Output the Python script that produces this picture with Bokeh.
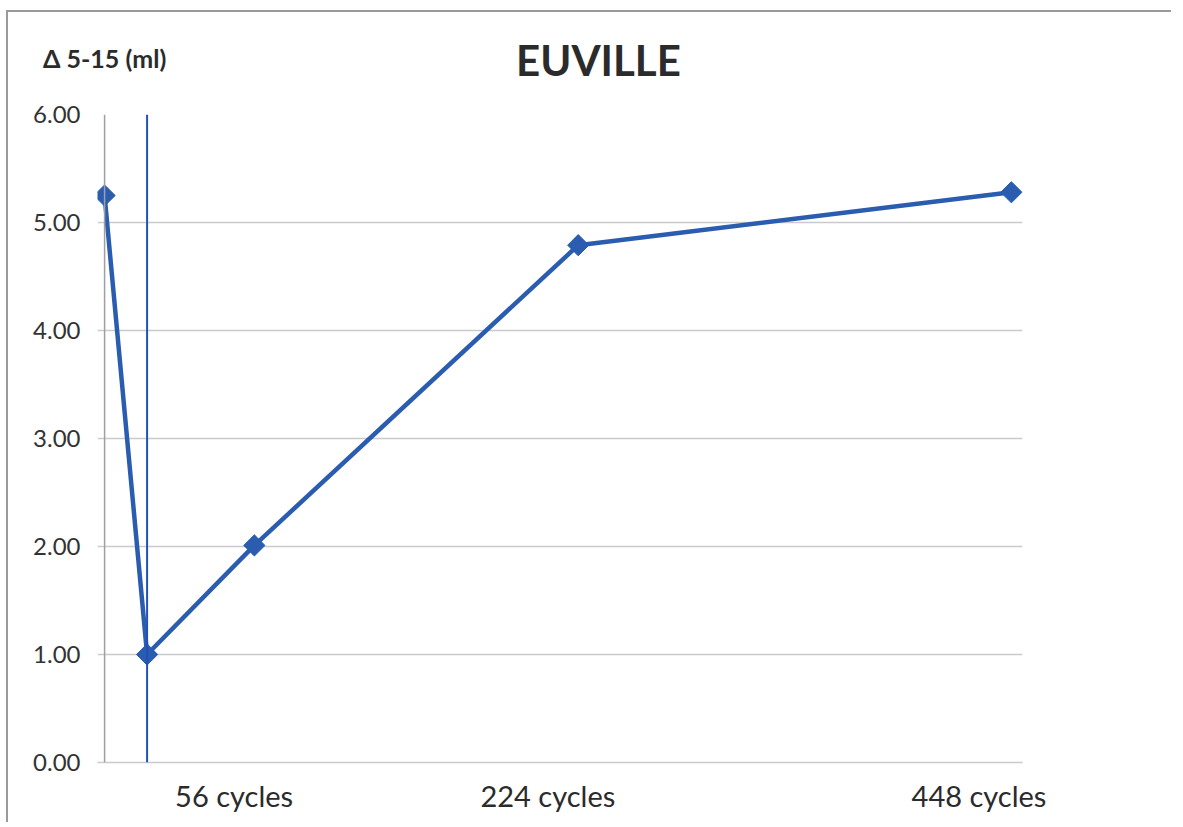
import numpy as np
from bokeh.plotting import figure
from bokeh.models import FixedTicker, Span, Range1d, CustomJSTickFormatter, LinearAxis
from bokeh.embed import file_html
from bokeh.resources import INLINE

# ---- data ----
title_text = "EUVILLE"
y_label_text = "Δ 5-15 (ml)"
x_values = [0, 21, 74, 234, 448]          # position along the cycle axis
y_values = [5.25, 1.00, 2.01, 4.79, 5.28]  # Δ 5-15 (ml)
tick_labels = ["56 cycles", "224 cycles", "448 cycles"]
tick_label_pos = [64, 219, 432]
marker_line_x = 21
y_ticks = [0, 1, 2, 3, 4, 5, 6]
title_pos = 244
y_label_pos = 0

blue = "#2a5cb0"
grid = "#c9c9cf"
font = "Lato"

W, H = 1165, 812
p = figure(width=W, height=H, output_backend="svg", toolbar_location=None,
           x_range=Range1d(-3.5, 453.5), y_range=Range1d(0, 6))
p.margin = (10, 0, 0, 6)
p.min_border_left = 89
p.min_border_right = 151
p.min_border_top = 102
p.min_border_bottom = 62
p.outline_line_color = None
p.background_fill_color = "white"
p.border_fill_color = "white"
p.styles = {"border-top": "2px solid #9a9a9a", "border-left": "2px solid #9a9a9a"}


def text_axis(pos, text, size, standoff):
    ax = LinearAxis(ticker=FixedTicker(ticks=[pos]), major_label_overrides={pos: text})
    ax.major_label_text_font = font
    ax.major_label_text_font_size = size
    ax.major_label_text_font_style = "bold"
    ax.major_label_text_color = "#2b2b2b"
    ax.major_label_standoff = standoff
    ax.axis_line_color = None
    ax.major_tick_line_color = None
    ax.minor_tick_line_color = None
    return ax


# chart title and value-axis caption, as label-only axes above the frame
p.add_layout(text_axis(title_pos, title_text, "42px", 24), "above")
p.add_layout(text_axis(y_label_pos, y_label_text, "25px", -47), "above")

# y axis (axis line drawn separately at x=0)
p.yaxis.ticker = FixedTicker(ticks=y_ticks)
p.yaxis.formatter = CustomJSTickFormatter(code="return tick.toFixed(2);")
p.yaxis.major_label_text_font = font
p.yaxis.major_label_text_font_size = "24px"
p.yaxis.major_label_text_color = "#333333"
p.yaxis.axis_line_color = None
p.yaxis.major_tick_line_color = None
p.yaxis.minor_tick_line_color = None
p.yaxis.major_label_standoff = 11

# x axis
xax = p.below[0]
xax.ticker = FixedTicker(ticks=tick_label_pos)
xax.major_label_overrides = {pos: lab for pos, lab in zip(tick_label_pos, tick_labels)}
xax.major_label_text_font = font
xax.major_label_text_font_size = "29px"
xax.major_label_text_color = "#2b2b2b"
xax.axis_line_color = grid
xax.axis_line_width = 1.5
xax.major_tick_line_color = None
xax.minor_tick_line_color = None
xax.major_label_standoff = 9

p.xgrid.grid_line_color = None
p.ygrid.grid_line_color = grid
p.ygrid.grid_line_width = 1.5

# value axis line at the first category
p.add_layout(Span(location=0, dimension="height", line_color="#a0a0a0", line_width=1.5))
# vertical marker line
p.add_layout(Span(location=marker_line_x, dimension="height", line_color="#2050b8", line_width=2))

# series
p.line(x_values, y_values, line_color=blue, line_width=4.5)
p.scatter(x_values, y_values, marker="square", angle=np.pi / 4, size=15,
          fill_color=blue, line_color=blue)

open("out.html", "w").write(file_html(p, INLINE))
